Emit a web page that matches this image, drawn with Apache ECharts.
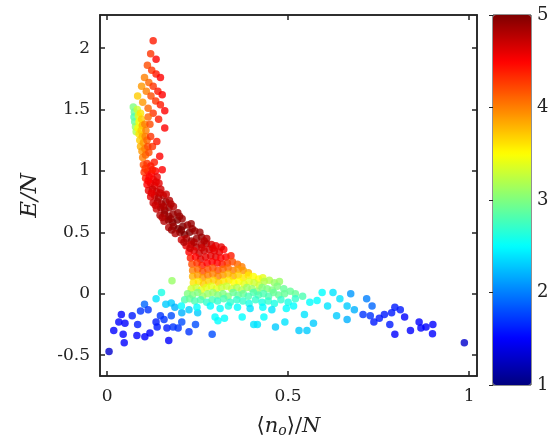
<!DOCTYPE html>
<html>
<head>
<meta charset="utf-8">
<script src="https://cdn.jsdelivr.net/npm/echarts@6/dist/echarts.min.js"></script>
<style>html,body{margin:0;padding:0;background:#fff}#main{width:558px;height:443px}</style>
</head>
<body>
<div id="main"></div>
<script>
// points are [<n_o>/N, E/N, colour value]
var lowBluePts = [
  [0.005,-0.47,1.3],[0.018,-0.30,1.5],[0.032,-0.23,1.5],[0.039,-0.17,1.5],[0.044,-0.33,1.5],
  [0.047,-0.40,1.5],[0.049,-0.24,1.5],[0.069,-0.18,1.6],[0.082,-0.34,1.5],[0.084,-0.25,1.6],
  [0.092,-0.14,1.7],[0.103,-0.085,1.9],[0.104,-0.35,1.5],[0.118,-0.32,1.5],[0.113,-0.13,1.7],
  [0.135,-0.23,1.6],[0.138,-0.27,1.6],[0.147,-0.18,1.7],[0.157,-0.21,1.7],[0.17,-0.38,1.5],
  [0.165,-0.28,1.6],[0.177,-0.18,1.8],[0.182,-0.27,1.7],[0.196,-0.28,1.7],[0.206,-0.23,1.8],
  [0.226,-0.31,1.7],[0.244,-0.25,1.8],[0.29,-0.33,1.8],
  [0.707,-0.17,1.7],[0.727,-0.18,1.7],[0.737,-0.23,1.6],[0.752,-0.20,1.6],[0.766,-0.17,1.6],
  [0.781,-0.25,1.6],[0.786,-0.155,1.6],[0.795,-0.11,1.6],[0.795,-0.33,1.5],[0.81,-0.13,1.6],
  [0.822,-0.19,1.5],[0.838,-0.30,1.5],[0.862,-0.23,1.5],[0.867,-0.28,1.5],[0.881,-0.27,1.5],
  [0.9,-0.25,1.5],[0.899,-0.325,1.5],[0.987,-0.40,1.3],[0.717,-0.04,2.0],[0.732,-0.10,1.9]
];
var lowCyanPts = [
  [0.135,-0.04,2.4],[0.15,0.01,2.6],[0.162,-0.085,2.3],[0.177,-0.075,2.3],[0.187,-0.11,2.2],
  [0.206,-0.155,2.2],[0.226,-0.13,2.3],[0.25,-0.155,2.3],[0.298,-0.19,2.5],[0.306,-0.22,2.5],
  [0.324,-0.20,2.5],[0.373,-0.19,2.5],[0.405,-0.25,2.4],[0.415,-0.25,2.4],[0.433,-0.19,2.5],
  [0.465,-0.27,2.3],[0.491,-0.23,2.4],[0.53,-0.30,2.3],[0.552,-0.30,2.3],[0.57,-0.24,2.3],
  [0.545,-0.17,2.4],[0.594,0.01,2.5],[0.624,0.01,2.4],[0.643,-0.04,2.4],[0.663,-0.10,2.3],
  [0.683,-0.13,2.2],[0.673,0.00,2.1],[0.634,-0.18,2.3],[0.663,-0.21,2.2],[0.609,-0.10,2.4],
  [0.58,-0.056,2.5],[0.56,-0.07,2.5],[0.179,0.105,3.1]
];
var tipPts = [
  [0.127,2.06,4.4],[0.120,1.955,4.3],[0.135,1.91,4.5],
  [0.111,1.86,4.2],[0.123,1.82,4.3],[0.135,1.79,4.4],[0.147,1.76,4.5],
  [0.103,1.76,4.0],[0.115,1.72,4.1],[0.127,1.69,4.3],[0.140,1.65,4.4],[0.152,1.62,4.5],
  [0.095,1.69,3.9],[0.108,1.65,4.0],[0.121,1.61,4.2],[0.134,1.57,4.3],[0.147,1.54,4.4],[0.159,1.49,4.5],
  [0.084,1.61,3.7],[0.098,1.56,3.9],[0.113,1.51,4.1],[0.127,1.47,4.3],[0.142,1.42,4.4],[0.159,1.35,4.5],
  [0.072,1.52,3.0],[0.075,1.48,2.9],[0.074,1.44,2.8],[0.076,1.40,2.9],[0.078,1.36,3.1],[0.080,1.32,3.2],
  [0.083,1.50,3.3],[0.086,1.45,3.4],[0.088,1.40,3.5],[0.085,1.35,3.5],[0.088,1.30,3.6],[0.092,1.47,3.6],
  [0.095,1.42,3.7],[0.097,1.37,3.8],[0.094,1.33,3.7],[0.097,1.28,3.8],[0.090,1.25,3.7],[0.092,1.20,3.8],
  [0.100,1.23,3.9],[0.104,1.38,4.0],[0.107,1.33,4.0],[0.105,1.28,4.0],[0.110,1.25,4.1],[0.096,1.16,3.9],
  [0.104,1.18,4.0],[0.112,1.20,4.2],[0.098,1.11,4.0],[0.106,1.13,4.1],[0.115,1.15,4.2],[0.120,1.28,4.3],
  [0.118,1.38,4.2],[0.113,1.44,4.1],[0.125,1.20,4.3],[0.137,1.24,4.4],[0.145,1.12,4.5],[0.152,1.01,4.5]
];
var bandPts = [
  [0.100,1.05,4.2],[0.110,1.06,4.3],[0.120,1.04,4.4],[0.130,1.07,4.4],
  [0.102,0.99,4.3],[0.112,1.00,4.4],[0.122,0.98,4.5],[0.133,1.00,4.5],
  [0.106,0.94,4.4],[0.116,0.95,4.5],[0.127,0.93,4.5],[0.138,0.95,4.6],
  [0.110,0.89,4.5],[0.120,0.90,4.6],[0.131,0.88,4.6],[0.143,0.90,4.6],
  [0.114,0.84,4.6],[0.125,0.85,4.7],[0.136,0.83,4.7],[0.148,0.85,4.7],
  [0.120,0.79,4.6],[0.131,0.80,4.7],[0.142,0.78,4.8],[0.155,0.80,4.8],[0.163,0.81,4.7],
  [0.127,0.74,4.7],[0.139,0.75,4.8],[0.150,0.73,4.8],[0.162,0.75,4.9],[0.172,0.76,4.8],
  [0.136,0.69,4.7],[0.148,0.70,4.8],[0.159,0.68,4.9],[0.171,0.70,4.9],[0.183,0.71,4.8],
  [0.146,0.64,4.8],[0.158,0.65,4.9],[0.170,0.63,4.9],[0.182,0.65,4.9],[0.195,0.66,4.9],
  [0.157,0.59,4.8],[0.169,0.60,4.9],[0.181,0.58,5.0],[0.194,0.60,5.0],[0.207,0.61,4.9],
  [0.170,0.54,4.8],[0.183,0.55,4.9],[0.196,0.53,5.0],[0.209,0.55,5.0],[0.222,0.56,4.9],[0.232,0.57,4.9],
  [0.188,0.49,4.8],[0.201,0.50,4.9],[0.214,0.48,5.0],[0.228,0.50,5.0],[0.242,0.51,4.9],[0.256,0.50,4.9],
  [0.205,0.44,4.7],[0.219,0.45,4.8],[0.233,0.43,4.9],[0.247,0.45,4.9],[0.261,0.46,4.9],[0.275,0.45,4.8],
  [0.218,0.39,4.6],[0.232,0.40,4.7],[0.246,0.38,4.8],[0.260,0.40,4.8],[0.274,0.41,4.8],[0.288,0.40,4.7],[0.300,0.39,4.6],
  [0.226,0.34,4.5],[0.240,0.35,4.6],[0.254,0.33,4.7],[0.268,0.35,4.7],[0.282,0.36,4.7],[0.296,0.35,4.6],[0.310,0.34,4.6],[0.322,0.36,4.5],
  [0.105,1.02,4.3],[0.125,1.01,4.4],[0.113,0.92,4.5],[0.135,0.91,4.6],[0.122,0.82,4.6],[0.146,0.82,4.7],
  [0.133,0.72,4.7],[0.155,0.71,4.8],[0.176,0.73,4.8],[0.152,0.62,4.8],[0.175,0.61,4.9],[0.200,0.63,4.9],
  [0.178,0.52,4.9],[0.205,0.52,5.0],[0.235,0.53,4.9],[0.212,0.42,4.8],[0.240,0.42,4.8],[0.268,0.43,4.8],
  [0.229,0.37,4.7],[0.262,0.375,4.7],[0.292,0.37,4.6],[0.315,0.38,4.6]
];
var clusterPts = [
  [0.230,0.29,4.4],[0.244,0.30,4.5],[0.258,0.28,4.6],[0.272,0.30,4.6],[0.286,0.31,4.6],[0.300,0.30,4.6],[0.314,0.29,4.5],[0.328,0.30,4.5],[0.342,0.31,4.4],
  [0.234,0.24,4.2],[0.248,0.25,4.3],[0.262,0.23,4.4],[0.276,0.25,4.5],[0.290,0.26,4.5],[0.304,0.25,4.5],[0.318,0.24,4.4],[0.332,0.25,4.3],[0.346,0.26,4.2],[0.360,0.24,4.1],[0.372,0.22,4.0],
  [0.236,0.19,4.0],[0.250,0.20,4.1],[0.264,0.18,4.2],[0.278,0.20,4.2],[0.292,0.21,4.2],[0.306,0.19,4.2],[0.320,0.20,4.1],[0.334,0.21,4.1],[0.348,0.19,4.0],[0.362,0.20,3.9],[0.376,0.19,3.9],[0.390,0.17,3.8],
  [0.236,0.14,3.8],[0.250,0.15,3.9],[0.264,0.13,3.9],[0.278,0.15,4.0],[0.292,0.16,4.0],[0.306,0.14,4.0],[0.320,0.15,3.9],[0.334,0.16,3.8],[0.348,0.14,3.8],[0.362,0.15,3.7],[0.376,0.13,3.6],[0.390,0.15,3.6],[0.404,0.14,3.5],[0.418,0.12,3.5],[0.430,0.13,3.4],
  [0.238,0.09,3.6],[0.252,0.10,3.6],[0.266,0.08,3.7],[0.280,0.10,3.7],[0.294,0.11,3.7],[0.308,0.09,3.7],[0.322,0.10,3.6],[0.336,0.11,3.6],[0.350,0.09,3.5],[0.364,0.10,3.5],[0.378,0.08,3.4],[0.392,0.10,3.4],[0.406,0.09,3.3],[0.420,0.07,3.3],[0.434,0.10,3.2],[0.448,0.11,3.2],[0.462,0.09,3.1],[0.476,0.10,3.1],
  [0.232,0.04,3.3],[0.246,0.05,3.3],[0.260,0.03,3.4],[0.274,0.05,3.4],[0.288,0.06,3.4],[0.302,0.04,3.4],[0.316,0.05,3.3],[0.330,0.06,3.3],[0.344,0.04,3.3],[0.358,0.05,3.2],[0.372,0.03,3.2],[0.386,0.05,3.1],[0.400,0.04,3.1],[0.414,0.02,3.1],[0.428,0.05,3.0],[0.442,0.04,3.0],[0.456,0.03,3.0],[0.470,0.06,3.0],[0.488,0.04,2.9],
  [0.222,0.00,3.0],[0.236,-0.01,3.0],[0.250,0.01,3.0],[0.264,-0.02,3.1],[0.278,0.00,3.1],[0.292,0.01,3.1],[0.306,-0.01,3.0],[0.320,0.00,3.0],[0.334,-0.02,3.0],[0.348,0.01,2.9],[0.362,-0.01,2.9],[0.376,0.00,2.9],[0.390,-0.02,2.8],[0.404,0.01,2.8],[0.418,-0.01,2.8],[0.432,0.00,2.8],[0.446,-0.02,2.8],[0.460,0.01,2.9],[0.474,-0.01,2.9],[0.490,0.00,2.9],[0.506,0.02,2.9],[0.520,0.00,2.9],
  [0.214,-0.05,2.8],[0.228,-0.04,2.9],[0.242,-0.06,2.8],[0.258,-0.05,2.8],[0.275,-0.07,2.7],[0.290,-0.05,2.8],[0.305,-0.06,2.7],[0.322,-0.04,2.8],[0.340,-0.07,2.7],[0.358,-0.05,2.7],[0.375,-0.06,2.7],[0.392,-0.08,2.6],[0.410,-0.05,2.7],[0.428,-0.07,2.6],[0.445,-0.06,2.7],[0.462,-0.08,2.6],[0.480,-0.05,2.7],[0.500,-0.07,2.6],[0.520,-0.04,2.7],[0.540,-0.02,2.8],
  [0.205,-0.10,2.5],[0.248,-0.11,2.5],[0.285,-0.10,2.5],[0.312,-0.12,2.5],[0.335,-0.10,2.6],[0.360,-0.11,2.5],[0.395,-0.12,2.4],[0.430,-0.11,2.5],[0.455,-0.13,2.4],[0.495,-0.12,2.5],[0.515,-0.10,2.5]
];
var xTicks = [0, 0.5, 1];
var yTicks = [-0.5, 0, 0.5, 1, 1.5, 2];
var cbTicks = [1, 2, 3, 4, 5];
var jet = ['#00007F','#0000FF','#007FFF','#00FFFF','#7FFF7F','#FFFF00','#FF7F00','#FF0000','#7F0000'];

var allPts = lowBluePts.concat(lowCyanPts, tipPts, bandPts, clusterPts);
var font = 'DejaVu Serif';
var tickStyle = {inside: true, length: 5, lineStyle: {color: '#222', width: 1.5}};
var lineStyle = {onZero: false, lineStyle: {color: '#222', width: 1.5}};

var myChart = echarts.init(document.getElementById('main'));
var option = {
    backgroundColor: '#fff',
    animation: false,
    grid: [
        {left: 100, right: 81, top: 15, bottom: 58, show: true, borderColor: '#222', borderWidth: 1.5},
        {left: 493, width: 38, top: 15, bottom: 58, show: true, borderColor: '#222', borderWidth: 1, backgroundColor: 'transparent'}
    ],
    xAxis: [
        {type: 'value', min: -0.02, max: 1.022, gridIndex: 0, axisLine: lineStyle, splitLine: {show: false},
         axisTick: Object.assign({customValues: xTicks}, tickStyle),
         axisLabel: {customValues: xTicks, fontFamily: font, fontSize: 17, color: '#222', margin: 12},
         name: '⟨{i|n}{s|o}⟩/{i|N}', nameLocation: 'middle', nameGap: 40,
         nameTextStyle: {fontFamily: font, fontSize: 21, color: '#222',
            rich: {i: {fontFamily: font, fontStyle: 'italic', fontSize: 21, color: '#222'},
                   s: {fontFamily: font, fontStyle: 'italic', fontSize: 14, color: '#222', verticalAlign: 'bottom', padding: [8, 0, 0, 0]}}}},
        {type: 'value', min: -0.02, max: 1.022, gridIndex: 0, position: 'top', axisLine: lineStyle, splitLine: {show: false},
         axisTick: Object.assign({customValues: xTicks}, tickStyle), axisLabel: {show: false}},
        {type: 'value', min: 0, max: 1, gridIndex: 1, show: false}
    ],
    yAxis: [
        {type: 'value', min: -0.67, max: 2.27, gridIndex: 0, axisLine: lineStyle, splitLine: {show: false},
         axisTick: Object.assign({customValues: yTicks}, tickStyle),
         axisLabel: {customValues: yTicks, fontFamily: font, fontSize: 17, color: '#222', margin: 10},
         name: 'E/N', nameLocation: 'middle', nameGap: 58, nameRotate: 90,
         nameTextStyle: {fontFamily: font, fontStyle: 'italic', fontSize: 23, color: '#222'}},
        {type: 'value', min: -0.67, max: 2.27, gridIndex: 0, position: 'right', axisLine: lineStyle, splitLine: {show: false},
         axisTick: Object.assign({customValues: yTicks}, tickStyle), axisLabel: {show: false}},
        {type: 'value', min: 1, max: 5, interval: 1, gridIndex: 1, position: 'right', splitLine: {show: false},
         axisLine: {show: false}, axisTick: {inside: true, length: 4, lineStyle: {color: '#222'}},
         axisLabel: {fontFamily: font, fontSize: 18, color: '#222', margin: 6}}
    ],
    visualMap: {
        type: 'continuous', min: 1, max: 5, dimension: 2, seriesIndex: 0,
        inRange: {color: jet}, calculable: false, text: null, showLabel: false,
        left: 493, top: 15, itemWidth: 38, itemHeight: 370, padding: 0, z: 1
    },
    series: [{
        type: 'scatter', xAxisIndex: 0, yAxisIndex: 0, data: allPts,
        symbolSize: 7.5, itemStyle: {opacity: 0.8}
    }]
};
myChart.setOption(option);
</script>
</body>
</html>
